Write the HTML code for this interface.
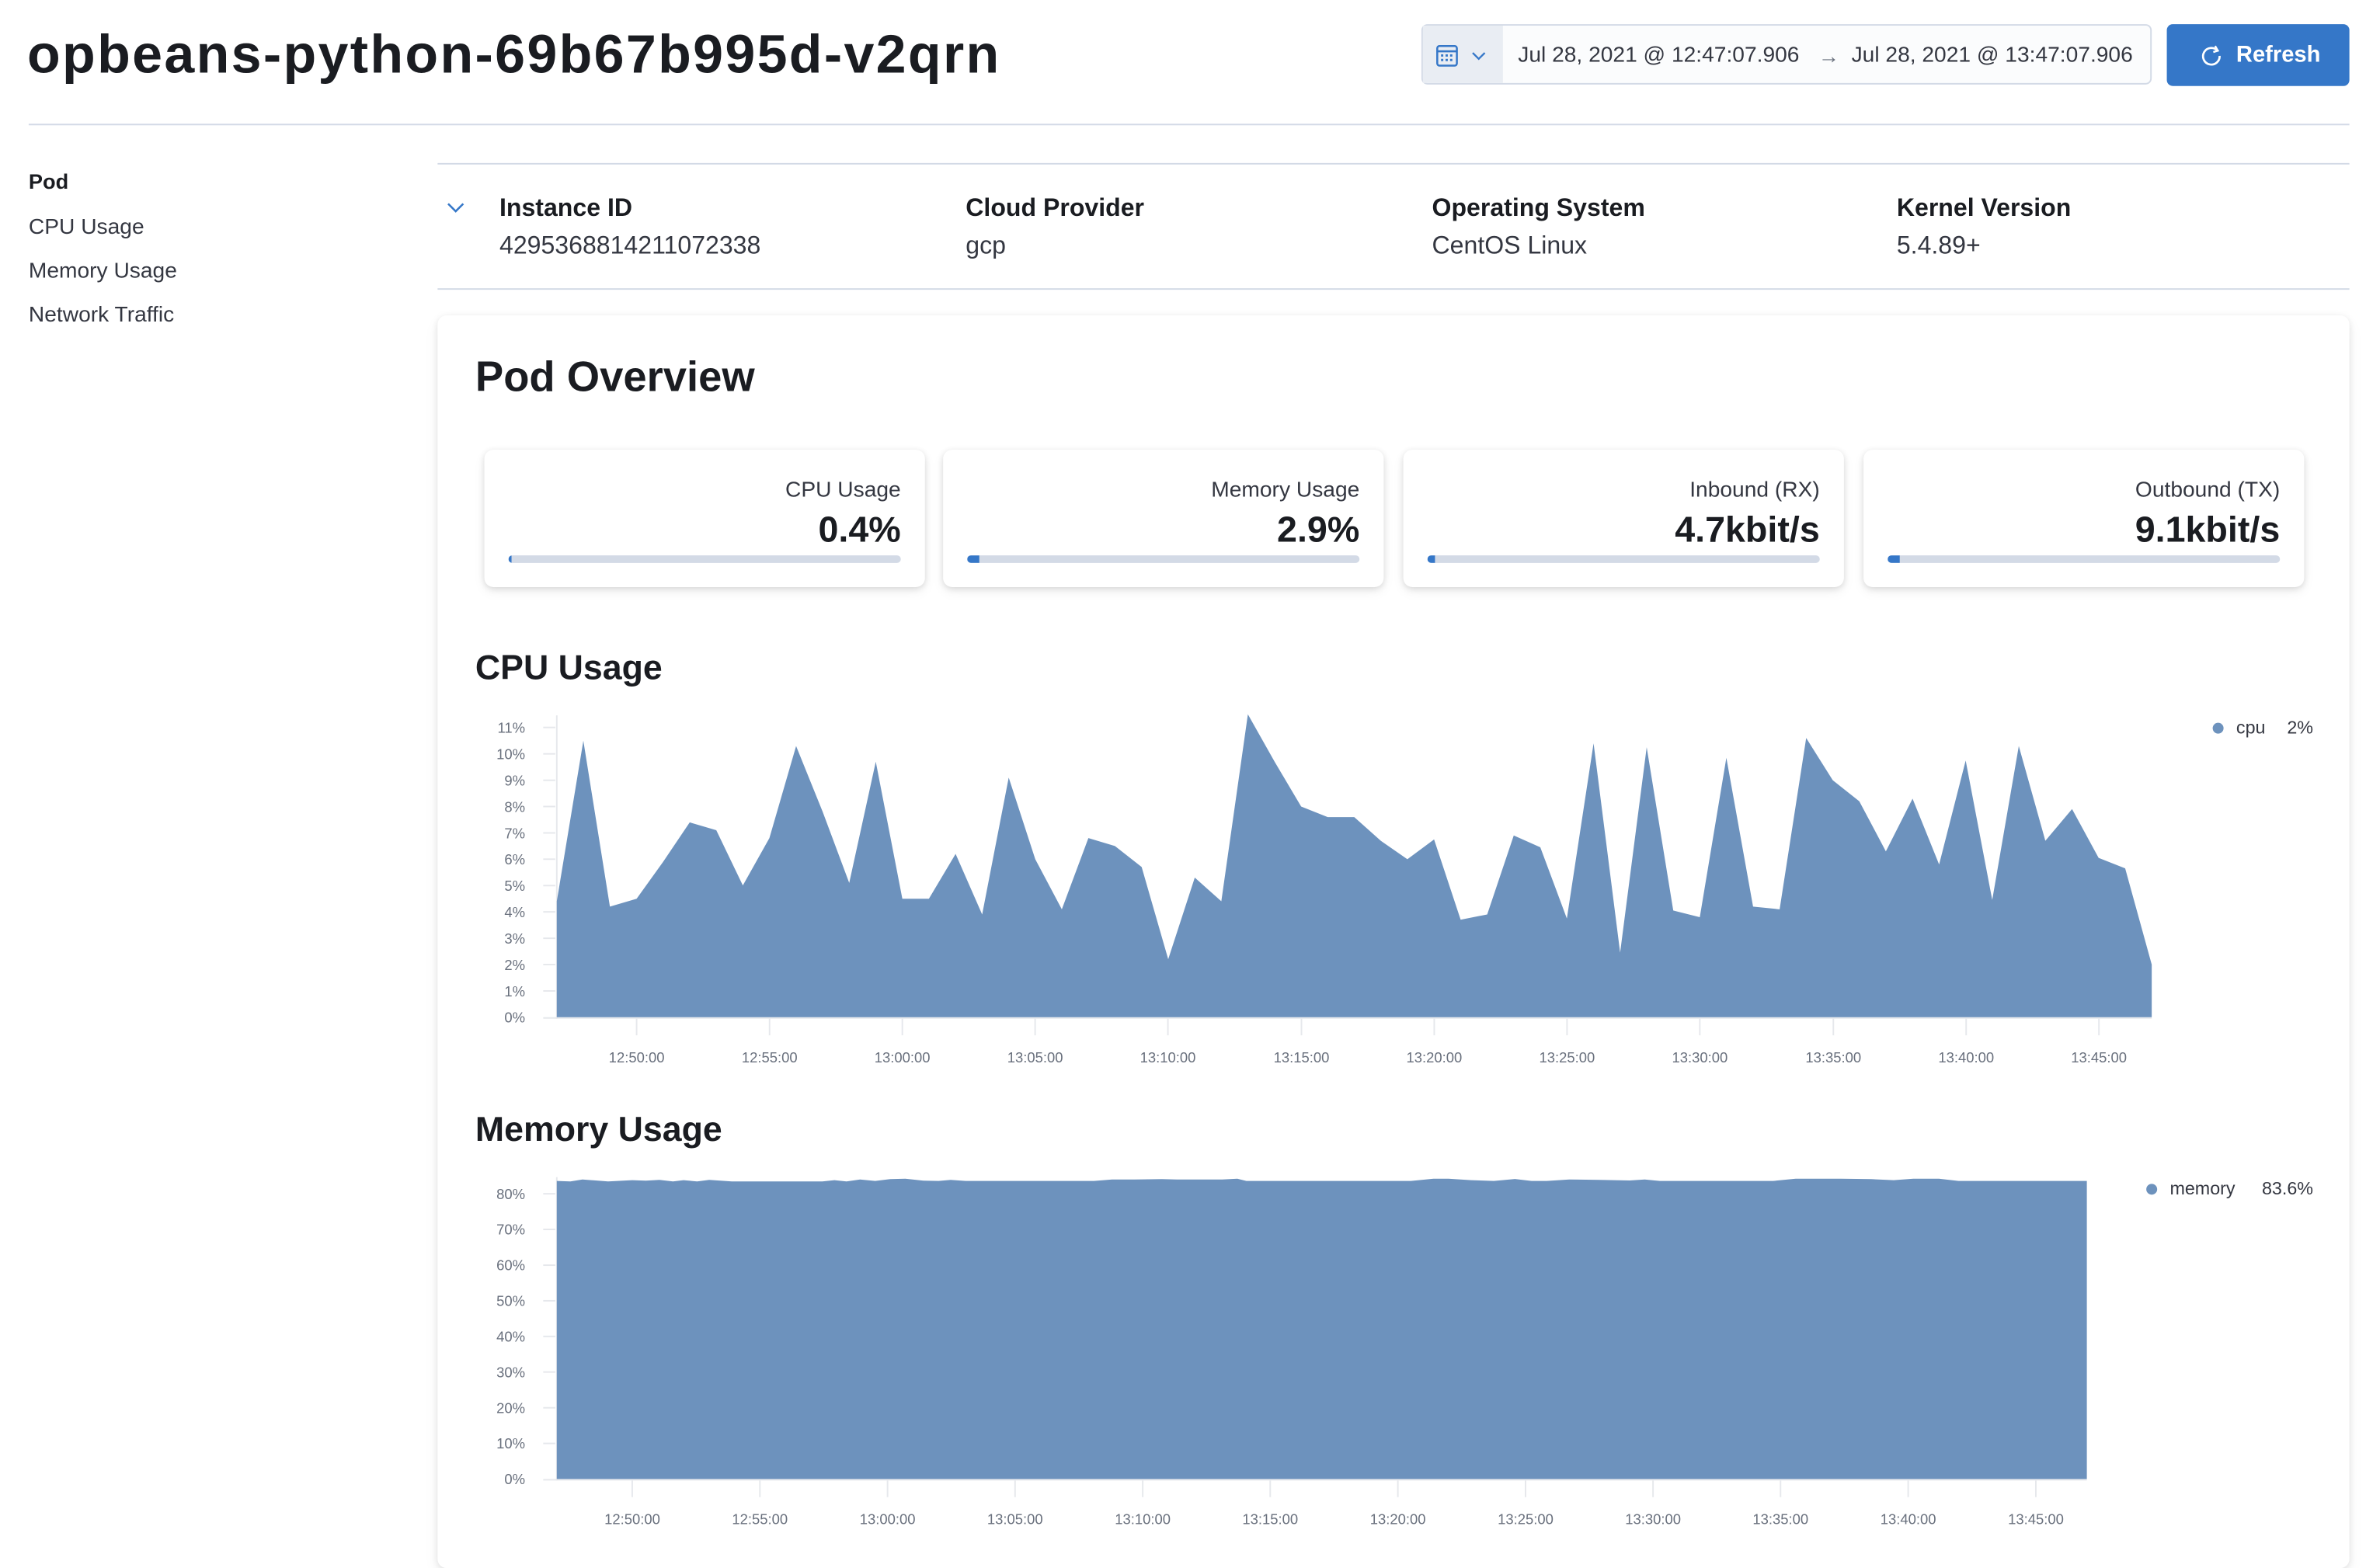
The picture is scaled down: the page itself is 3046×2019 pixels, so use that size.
<!DOCTYPE html>
<html><head><meta charset="utf-8"><style>
html,body{margin:0;padding:0;background:#fff;overflow:hidden;width:3046px;height:1986px}
#w{position:absolute;left:0;top:0;width:1568px;height:1023px;transform:scale(1.9426,1.9433);transform-origin:0 0;font-family:"Liberation Sans",sans-serif;color:#1a1c21}
.a{position:absolute;white-space:nowrap}
.hl{position:absolute;height:1px;background:#d3dae6}
.card{position:absolute;top:298px;width:292px;height:91px;background:#fff;border-radius:6px;box-shadow:0 1px 4px rgba(0,0,0,.12),0 3px 8px rgba(0,0,0,.06)}
.card .l{position:absolute;right:16px;top:19px;font-size:14.5px;color:#343741}
.card .v{position:absolute;right:16px;top:40px;font-size:24px;font-weight:bold}
.card .b{position:absolute;left:16px;right:16px;top:70px;height:5px;border-radius:3px;background:#d3dae6;overflow:hidden}
.card .b i{position:absolute;left:0;top:0;height:5px;background:#3577c8}
.col .t{font-size:16.5px;font-weight:bold}
.col .s{font-size:16.5px;color:#343741;margin-top:6px}
</style></head><body><div id="w">
<div class="a" style="left:18px;top:15px;font-size:36px;font-weight:bold;letter-spacing:1.2px">opbeans-python-69b67b995d-v2qrn</div>
<div class="a" style="left:942px;top:16px;width:484px;height:40px;border:1px solid #d3dae6;border-radius:4px;background:#fbfcfd;box-sizing:border-box"></div>
<div class="a" style="left:943px;top:17px;width:53px;height:38px;background:#e9edf3"></div>
<svg class="a" style="left:951px;top:28px" width="40" height="18"><rect x="1.5" y="2.5" width="13" height="13" rx="1.5" fill="none" stroke="#3577c8" stroke-width="1.3"/><line x1="1.5" y1="6" x2="14.5" y2="6" stroke="#3577c8" stroke-width="1.3"/><g fill="#3577c8"><rect x="4" y="8" width="1.5" height="1.5"/><rect x="7" y="8" width="1.5" height="1.5"/><rect x="10" y="8" width="1.5" height="1.5"/><rect x="4" y="11" width="1.5" height="1.5"/><rect x="7" y="11" width="1.5" height="1.5"/><rect x="10" y="11" width="1.5" height="1.5"/></g><polyline points="25,7 29,11 33,7" fill="none" stroke="#3577c8" stroke-width="1.2"/></svg>
<div class="a" style="left:1006px;top:29px;font-size:14.5px;color:#343741">Jul 28, 2021 @ 12:47:07.906</div>
<div class="a" style="left:1205px;top:29px;font-size:14px;color:#69707d">→</div>
<div class="a" style="left:1227px;top:29px;font-size:14.5px;color:#343741">Jul 28, 2021 @ 13:47:07.906</div>
<div class="a" style="left:1436px;top:16px;width:121px;height:41px;background:#3577c8;border-radius:4px"></div>
<svg class="a" style="left:1458px;top:29px" width="16" height="16"><path d="M11.5 4.5 A5.5 5.5 0 1 0 13 8" fill="none" stroke="#fff" stroke-width="1.4"/><polyline points="10,1.5 11.8,4.6 8.8,5.5" fill="none" stroke="#fff" stroke-width="1.3"/></svg>
<div class="a" style="left:1482px;top:28px;font-size:15px;font-weight:bold;color:#fff">Refresh</div>
<div class="hl" style="left:19px;top:82px;width:1538px"></div>
<div class="a" style="left:19px;top:112px;font-size:14px;font-weight:bold">Pod</div>
<div class="a" style="left:19px;top:143px;font-size:14.5px;color:#343741">CPU Usage</div>
<div class="a" style="left:19px;top:172px;font-size:14.5px;color:#343741">Memory Usage</div>
<div class="a" style="left:19px;top:201px;font-size:14.5px;color:#343741">Network Traffic</div>
<div class="hl" style="left:290px;top:108px;width:1267px"></div>
<div class="hl" style="left:290px;top:191px;width:1267px"></div>
<svg class="a" style="left:295px;top:132px" width="16" height="12"><polyline points="2,3 7,8 12,3" fill="none" stroke="#3577c8" stroke-width="1.3"/></svg>
<div class="a col" style="left:331px;top:129px"><div class="t">Instance ID</div><div class="s">4295368814211072338</div></div>
<div class="a col" style="left:640px;top:129px"><div class="t">Cloud Provider</div><div class="s">gcp</div></div>
<div class="a col" style="left:949px;top:129px"><div class="t">Operating System</div><div class="s">CentOS Linux</div></div>
<div class="a col" style="left:1257px;top:129px"><div class="t">Kernel Version</div><div class="s">5.4.89+</div></div>
<div class="a" style="left:290px;top:209px;width:1267px;height:830px;background:#fff;border-radius:6px;box-shadow:0 1px 5px rgba(0,0,0,.10),0 4px 10px rgba(0,0,0,.05)"></div>
<div class="a" style="left:315px;top:234px;font-size:28px;font-weight:bold">Pod Overview</div>
<div class="card" style="left:321px"><div class="l">CPU Usage</div><div class="v">0.4%</div><div class="b"><i style="width:2px"></i></div></div>
<div class="card" style="left:625px"><div class="l">Memory Usage</div><div class="v">2.9%</div><div class="b"><i style="width:8px"></i></div></div>
<div class="card" style="left:930px"><div class="l">Inbound (RX)</div><div class="v">4.7kbit/s</div><div class="b"><i style="width:5px"></i></div></div>
<div class="card" style="left:1235px"><div class="l">Outbound (TX)</div><div class="v">9.1kbit/s</div><div class="b"><i style="width:8px"></i></div></div>
<div class="a" style="left:315px;top:429px;font-size:23px;font-weight:bold">CPU Usage</div>
<div class="a" style="left:315px;top:735px;font-size:23px;font-weight:bold">Memory Usage</div>
<svg class="a" style="left:0;top:0" width="1568" height="1023" font-family="Liberation Sans, sans-serif">
<g stroke="#e6e8ec" stroke-width="1"><line x1="369" y1="474" x2="369" y2="675"/><line x1="360" y1="674.5" x2="1426" y2="674.5"/>
<line x1="421.9" y1="675" x2="421.9" y2="686"/><line x1="510" y1="675" x2="510" y2="686"/><line x1="598" y1="675" x2="598" y2="686"/><line x1="686" y1="675" x2="686" y2="686"/><line x1="774" y1="675" x2="774" y2="686"/><line x1="862.5" y1="675" x2="862.5" y2="686"/><line x1="950.5" y1="675" x2="950.5" y2="686"/><line x1="1038.5" y1="675" x2="1038.5" y2="686"/><line x1="1126.5" y1="675" x2="1126.5" y2="686"/><line x1="1215" y1="675" x2="1215" y2="686"/><line x1="1303" y1="675" x2="1303" y2="686"/><line x1="1391" y1="675" x2="1391" y2="686"/>
<line x1="360" y1="482" x2="368" y2="482"/><line x1="360" y1="499.5" x2="368" y2="499.5"/><line x1="360" y1="517" x2="368" y2="517"/><line x1="360" y1="534.4" x2="368" y2="534.4"/><line x1="360" y1="551.9" x2="368" y2="551.9"/><line x1="360" y1="569.3" x2="368" y2="569.3"/><line x1="360" y1="586.8" x2="368" y2="586.8"/><line x1="360" y1="604.2" x2="368" y2="604.2"/><line x1="360" y1="621.7" x2="368" y2="621.7"/><line x1="360" y1="639.1" x2="368" y2="639.1"/><line x1="360" y1="656.6" x2="368" y2="656.6"/>
</g>
<polygon fill="#6d92bd" points="369,674 369,597.2 386.6,490.8 404.2,600.7 421.9,595.5 439.5,571 457.1,544.9 474.7,550.1 492.3,586.7 509.9,555.3 527.6,494.3 545.2,537.9 562.8,585 580.4,504.7 598,595.5 615.6,595.5 633.3,565.8 650.9,605.9 668.5,515.2 686.1,569.3 703.7,602.5 721.3,555.3 738.9,560.6 756.6,574.5 774.2,635.6 791.8,581.5 809.4,597.2 827,473.3 844.7,504.7 862.3,534.4 879.9,541.4 897.5,541.4 915.1,557.1 932.7,569.3 950.4,556.2 968,609.4 985.6,605.9 1003.2,553.6 1020.8,561.4 1038.4,608.6 1056.1,492.5 1073.7,631.2 1091.3,495.1 1108.9,603.3 1126.5,607.7 1144.1,502.1 1161.8,600.7 1179.4,602.5 1197,489 1214.6,517 1232.2,530.9 1249.8,564.1 1267.5,529.2 1285.1,572.8 1302.7,503.9 1320.3,596.3 1337.9,494.3 1355.5,557.1 1373.2,536.1 1390.8,568.4 1408.4,575.4 1426,639.1 1426,674"/>
<g font-size="9.5" fill="#69707d" text-anchor="end"><text x="348" y="485.5">11%</text><text x="348" y="503">10%</text><text x="348" y="520.5">9%</text><text x="348" y="538">8%</text><text x="348" y="555.4">7%</text><text x="348" y="572.8">6%</text><text x="348" y="590.3">5%</text><text x="348" y="607.7">4%</text><text x="348" y="625.2">3%</text><text x="348" y="642.6">2%</text><text x="348" y="660.1">1%</text><text x="348" y="677.5">0%</text></g>
<g font-size="9.5" fill="#69707d" text-anchor="middle"><text x="421.9" y="704">12:50:00</text><text x="510" y="704">12:55:00</text><text x="598" y="704">13:00:00</text><text x="686" y="704">13:05:00</text><text x="774" y="704">13:10:00</text><text x="862.5" y="704">13:15:00</text><text x="950.5" y="704">13:20:00</text><text x="1038.5" y="704">13:25:00</text><text x="1126.5" y="704">13:30:00</text><text x="1215" y="704">13:35:00</text><text x="1303" y="704">13:40:00</text><text x="1391" y="704">13:45:00</text></g>
<circle cx="1470" cy="482.5" r="3.6" fill="#6d92bd"/><text x="1482" y="486" font-size="12" fill="#343741">cpu</text><text x="1533" y="486" font-size="12" fill="#343741" text-anchor="end">2%</text>
<g stroke="#e6e8ec" stroke-width="1"><line x1="369" y1="780" x2="369" y2="981"/><line x1="360" y1="980.5" x2="1383" y2="980.5"/>
<line x1="419" y1="981" x2="419" y2="992"/><line x1="503.6" y1="981" x2="503.6" y2="992"/><line x1="588.2" y1="981" x2="588.2" y2="992"/><line x1="672.7" y1="981" x2="672.7" y2="992"/><line x1="757.3" y1="981" x2="757.3" y2="992"/><line x1="841.8" y1="981" x2="841.8" y2="992"/><line x1="926.4" y1="981" x2="926.4" y2="992"/><line x1="1011" y1="981" x2="1011" y2="992"/><line x1="1095.5" y1="981" x2="1095.5" y2="992"/><line x1="1180" y1="981" x2="1180" y2="992"/><line x1="1264.6" y1="981" x2="1264.6" y2="992"/><line x1="1349.2" y1="981" x2="1349.2" y2="992"/>
<line x1="360" y1="791" x2="368" y2="791"/><line x1="360" y1="814.6" x2="368" y2="814.6"/><line x1="360" y1="838.3" x2="368" y2="838.3"/><line x1="360" y1="861.9" x2="368" y2="861.9"/><line x1="360" y1="885.5" x2="368" y2="885.5"/><line x1="360" y1="909.1" x2="368" y2="909.1"/><line x1="360" y1="932.8" x2="368" y2="932.8"/><line x1="360" y1="956.4" x2="368" y2="956.4"/></g>
<polygon fill="#6d92bd" points="369,980 369,782.5 378,782.8 386,781.5 403,782.8 419,782 428,782.3 437,781.8 446,782.8 453,782 462,782.8 470,781.8 485,782.8 545,782.8 553,782 561,782.8 570,781.5 580,782.5 590,781.3 600,781 612,782.3 622,782.5 630,781.8 640,782.5 725,782.5 737,781.5 752,781.5 770,781.3 780,781.5 800,781.5 810,781.5 820,781 826,782.5 935,782.5 950,781 960,781 975,782 990,782.5 1004,781.2 1015,782.5 1025,782.5 1040,781.5 1060,781.8 1080,782.2 1090,781.5 1100,782.5 1175,782.5 1190,781 1220,781 1240,781.3 1255,782 1268,781 1285,781 1298,782.5 1383,782.5 1383,980"/>
<g font-size="9.5" fill="#69707d" text-anchor="end"><text x="348" y="794.5">80%</text><text x="348" y="818">70%</text><text x="348" y="841.7">60%</text><text x="348" y="865.3">50%</text><text x="348" y="889">40%</text><text x="348" y="912.6">30%</text><text x="348" y="936.2">20%</text><text x="348" y="959.8">10%</text><text x="348" y="983.5">0%</text></g>
<g font-size="9.5" fill="#69707d" text-anchor="middle"><text x="419" y="1010">12:50:00</text><text x="503.6" y="1010">12:55:00</text><text x="588.2" y="1010">13:00:00</text><text x="672.7" y="1010">13:05:00</text><text x="757.3" y="1010">13:10:00</text><text x="841.8" y="1010">13:15:00</text><text x="926.4" y="1010">13:20:00</text><text x="1011" y="1010">13:25:00</text><text x="1095.5" y="1010">13:30:00</text><text x="1180" y="1010">13:35:00</text><text x="1264.6" y="1010">13:40:00</text><text x="1349.2" y="1010">13:45:00</text></g>
<circle cx="1426" cy="788" r="3.6" fill="#6d92bd"/><text x="1438" y="791.5" font-size="12" fill="#343741">memory</text><text x="1533" y="791.5" font-size="12" fill="#343741" text-anchor="end">83.6%</text>
</svg>
</div></body></html>
